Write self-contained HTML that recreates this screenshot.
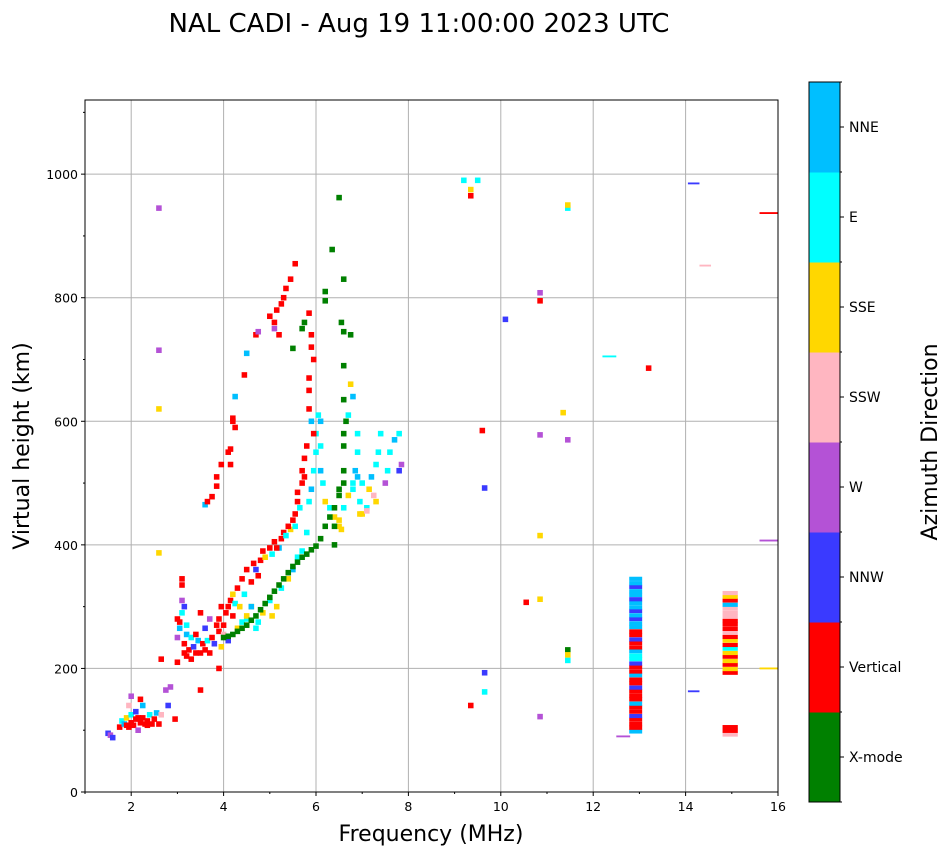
<!DOCTYPE html>
<html><head><meta charset="utf-8"><style>
body{margin:0;background:#fff;font-family:"DejaVu Sans","Liberation Sans",sans-serif}
svg{display:block;font-family:"DejaVu Sans","Liberation Sans",sans-serif}
</style></head><body>
<svg id="chart" width="951" height="856" xmlns="http://www.w3.org/2000/svg">
<text x="419" y="32" font-size="26" text-anchor="middle">NAL CADI - Aug 19 11:00:00 2023 UTC</text>
<g id="grid"></g>
<g id="marks"></g>
<rect x="85" y="100" width="693" height="692" fill="none" stroke="#000" stroke-width="1"/>
<g id="axes"></g>
<text x="431" y="841" font-size="22" text-anchor="middle">Frequency (MHz)</text>
<text transform="translate(29,446) rotate(-90)" font-size="22" text-anchor="middle">Virtual height (km)</text>
<g id="cbar"></g>
<text transform="translate(937,442) rotate(-90)" font-size="22" text-anchor="middle">Azimuth Direction</text>
</svg>
<script>
const catNames=["X-mode","Vertical","NNW","W","SSW","SSE","E","NNE"];
const catColors=["#008000","#ff0000","#3a3aff","#b452d6","#ffb6c1","#ffd700","#00ffff","#00bfff"];
const xTicks=[2,4,6,8,10,12,14,16];
const yTicks=[0,200,400,600,800,1000];
// scattered echoes: [freq MHz, height km, category]
const points=[
[1.5,95,2],[1.55,92,3],[1.6,88,2],[1.75,105,1],[1.8,115,6],[1.85,110,7],[1.9,120,5],[1.95,105,1],[2.0,112,1],[2.0,125,6],[2.05,108,1],[2.1,118,1],[2.1,130,2],[2.15,100,3],[2.2,112,1],[2.2,150,1],[2.25,140,7],[2.25,120,1],[2.3,110,1],[2.35,115,1],[2.4,125,6],[2.45,110,1],[2.5,118,1],[2.55,128,7],[2.6,110,1],[2.65,125,4],[2.75,165,3],[2.8,140,2],[2.95,118,1],[2.0,155,3],[1.95,140,4],[1.9,108,1],[2.15,120,1],[2.35,108,1],
[3.0,210,1],[3.0,250,3],[3.05,265,7],[3.05,275,1],[3.1,290,6],[3.1,310,3],[3.1,345,1],[3.1,335,1],[3.15,225,1],[3.15,240,1],[3.2,220,1],[3.2,255,7],[3.25,230,1],[3.3,215,1],[3.3,250,6],[3.35,235,2],[3.4,225,1],[3.45,245,7],[3.5,225,1],[3.5,290,1],[3.55,240,1],[3.6,230,1],[3.6,265,2],[3.65,245,6],[3.7,225,1],[3.7,280,3],[3.8,240,2],[3.85,270,1],[3.9,260,1],[3.9,280,1],[3.95,235,5],[3.95,300,1],[4.0,270,1],[4.0,255,4],[4.05,290,1],[4.1,300,1],[4.1,245,2],[4.15,310,1],[4.2,320,5],[4.25,305,6],[4.3,330,1],[4.35,300,5],[4.4,345,1],[4.5,360,1],[4.5,280,6],[4.6,300,5],[4.65,370,1],[4.7,360,2],[4.8,375,1],[4.85,390,1],[4.9,380,5],[5.0,395,1],[5.05,385,6],[5.1,405,1],[5.2,395,7],[5.25,410,1],[5.3,420,1],[5.35,415,6],[5.45,425,5],[5.4,430,1],[5.5,440,1],[5.55,450,1],[5.6,470,1],[5.6,485,1],[5.65,460,6],[5.7,500,1],[5.75,510,1],[3.0,280,1],[3.15,300,2],[2.85,170,3],[3.5,165,1],[3.9,200,1],[3.2,270,6],[3.4,255,1],[3.75,250,1],[4.2,285,1],[4.45,320,6],[4.6,340,1],[4.75,350,1],[5.15,395,1],[5.55,430,6],
[4.3,265,5],[4.4,275,6],[4.5,285,5],[4.6,300,7],[4.7,265,6],[4.75,275,6],[4.85,290,5],[5.0,310,6],[5.05,285,5],[5.15,300,5],[5.25,330,6],[5.4,345,5],[5.5,360,7],[5.6,380,6],[5.7,390,6],[5.8,420,6],[5.85,470,6],[5.9,490,7],[5.95,520,6],[6.0,550,6],[6.0,580,6],[6.05,610,6],[6.1,600,7],[6.15,500,6],[6.2,470,5],[6.3,460,6],[6.4,445,5],[6.5,430,5],[6.6,460,6],[6.7,480,5],[6.8,500,6],[6.85,520,7],[6.9,550,6],[6.9,580,6],[6.95,470,6],[7.0,450,5],[7.1,460,6],[7.15,490,5],[7.2,510,7],[7.3,530,6],[7.35,550,6],[7.4,580,6],[7.5,500,3],[7.55,520,6],[7.6,550,6],[7.7,570,7],[7.8,520,2],[7.85,530,3],[7.8,580,6],[7.3,470,5],[7.25,480,4],[7.1,455,4],[6.95,450,5],[6.75,660,5],[6.8,640,7],[6.7,610,6],[6.1,520,7],[6.1,560,6],[6.5,440,5],[6.55,425,5],[6.8,490,6],[7.0,500,6],[6.9,510,7],
[4.0,250,0],[4.1,252,0],[4.2,255,0],[4.3,260,0],[4.4,265,0],[4.5,270,0],[4.6,278,0],[4.7,285,0],[4.8,295,0],[4.9,305,0],[5.0,315,0],[5.1,325,0],[5.2,335,0],[5.3,345,0],[5.4,355,0],[5.5,365,0],[5.6,372,0],[5.7,380,0],[5.8,385,0],[5.9,392,0],[6.0,398,0],[6.1,410,0],[6.2,430,0],[6.3,445,0],[6.4,460,0],[6.5,480,0],[6.6,520,0],[6.6,560,0],[6.65,600,0],[6.6,635,0],[6.6,690,0],[6.55,760,0],[6.6,745,0],[6.2,795,0],[6.2,810,0],[6.35,878,0],[6.5,962,0],[6.6,830,0],[5.7,750,0],[5.75,760,0],[5.5,718,0],[6.75,740,0],[6.4,430,0],[6.4,400,0],[6.5,490,0],[6.6,500,0],[6.6,580,0],
[3.6,465,7],[3.65,470,1],[3.75,478,1],[3.85,495,1],[3.85,510,1],[3.95,530,1],[4.1,550,1],[4.2,600,1],[4.25,640,7],[4.45,675,1],[4.5,710,7],[4.7,740,1],[4.75,745,3],[5.0,770,1],[5.1,760,1],[5.15,780,1],[5.25,790,1],[5.3,800,1],[5.35,815,1],[5.45,830,1],[5.55,855,1],[5.85,775,1],[5.9,740,1],[5.9,720,1],[5.95,700,1],[5.85,670,1],[5.85,650,1],[5.85,620,1],[5.9,600,7],[5.95,580,1],[5.8,560,1],[5.75,540,1],[5.7,520,1],[5.1,750,3],[5.2,740,1],[4.25,590,1],[4.15,530,1],[4.2,605,1],[4.15,555,1],
[2.6,945,3],[2.6,715,3],[2.6,620,5],[2.6,387,5],[2.65,215,1],
[9.35,965,1],[9.35,975,5],[9.2,990,6],[9.5,990,6],[10.1,765,2],[10.85,808,3],[10.85,795,1],[11.45,945,6],[11.45,950,5],[13.2,686,1],[10.55,307,1],[10.85,312,5],[10.85,415,5],[10.85,578,3],[11.35,614,5],[11.45,570,3],[9.6,585,1],[9.65,492,2],[9.65,193,2],[9.65,162,6],[9.35,140,1],[10.85,122,3],[11.45,230,0],[11.45,213,6],[11.45,222,5]
];
// wide segments: [freqStart, freqEnd, height km, category]
const segments=[[14.05,14.3,985,2],[14.3,14.55,852,4],[15.6,16,937,1],[15.6,16,407,3],[15.6,16,200,5],[14.05,14.3,163,2],[12.5,12.8,90,3],[12.2,12.5,705,6]];
// column echoes near 12.9 MHz
const col1Heights=[98,104,110,117,123,130,137,143,150,156,163,169,176,182,189,195,202,208,215,221,228,234,241,247,254,260,267,273,280,286,293,299,306,312,319,325,332,338,345];
const col1Cats=[7,1,1,1,2,1,1,7,1,1,1,2,1,1,7,1,1,2,6,6,7,1,1,2,1,1,7,7,2,7,2,7,7,2,7,7,2,7,7];
// column echoes near 14.95 MHz
const col2Heights=[93,99,105,193,199,206,212,219,225,232,238,245,251,258,264,271,277,284,290,297,303,310,316,322];
const col2Cats=[4,1,1,1,5,1,5,1,5,6,1,5,1,4,1,1,1,4,4,4,7,1,5,4];

const NS="http://www.w3.org/2000/svg";
const X0=85,X1=778,Y0=792,Y1=100,FMIN=1,FMAX=16,HMIN=0,HMAX=1120;
const xs=f=>X0+(f-FMIN)/(FMAX-FMIN)*(X1-X0);
const ys=h=>Y0-(h-HMIN)/(HMAX-HMIN)*(Y0-Y1);
function mk(tag,attrs,parent){const e=document.createElementNS(NS,tag);for(const k in attrs)e.setAttribute(k,attrs[k]);parent.appendChild(e);return e;}
const grid=document.getElementById('grid'),axes=document.getElementById('axes'),marks=document.getElementById('marks'),cbar=document.getElementById('cbar');
xTicks.forEach(t=>{const x=xs(t);
 const g=mk('line',{x1:x,x2:x,y1:Y1,y2:Y0,stroke:'#b0b0b0','stroke-width':1},grid);
 
 mk('line',{x1:x,x2:x,y1:Y0,y2:Y0+4,stroke:'#000'},axes);
 const tx=mk('text',{x:x,y:Y0+19,'font-size':12.5,'text-anchor':'middle'},axes);tx.textContent=t;
 });
[1,3,5,7,9,11,13,15].forEach(t=>mk('line',{x1:xs(t),x2:xs(t),y1:Y0,y2:Y0+2,stroke:'#000'},axes));
yTicks.forEach(t=>{const y=ys(t);
 if(t>0){const g=mk('line',{x1:X0,x2:X1,y1:y,y2:y,stroke:'#b0b0b0','stroke-width':1},grid);
 }
 mk('line',{x1:X0-4,x2:X0,y1:y,y2:y,stroke:'#000'},axes);
 const tx=mk('text',{x:X0-7,y:y+5,'font-size':12.5,'text-anchor':'end'},axes);tx.textContent=t;
 });
for(let h=100;h<=1100;h+=100){if(h%200)mk('line',{x1:X0-2,x2:X0,y1:ys(h),y2:ys(h),stroke:'#000'},axes);}
const PW=0.12,PH=9;
points.forEach(p=>{const r=mk('rect',{x:xs(p[0]-PW/2),y:ys(p[1]+PH/2),width:xs(PW)-xs(0),height:ys(0)-ys(PH),fill:catColors[p[2]]},marks);
 });
segments.forEach(s=>{const r=mk('rect',{x:xs(s[0]),y:ys(s[2]+1.5),width:xs(s[1])-xs(s[0]),height:ys(0)-ys(3),fill:catColors[s[3]]},marks);
 });
col1Heights.forEach((h,i)=>{const r=mk('rect',{x:xs(12.78),y:ys(h+3.4),width:xs(0.28)-xs(0),height:ys(0)-ys(6.8),fill:catColors[col1Cats[i]]},marks);
 });
col2Heights.forEach((h,i)=>{const r=mk('rect',{x:xs(14.8),y:ys(h+3.4),width:xs(0.33)-xs(0),height:ys(0)-ys(6.8),fill:catColors[col2Cats[i]]},marks);
 });
// colorbar
const CX=809,CW=31,CT=82,CB=802,seg=(CB-CT)/catNames.length;
catNames.forEach((n,i)=>{const yTop=CB-(i+1)*seg;
 const r=mk('rect',{x:CX,y:yTop,width:CW,height:seg+0.5,fill:catColors[i]},cbar);
 
 mk('line',{x1:CX+CW,x2:CX+CW+4,y1:yTop+seg/2,y2:yTop+seg/2,stroke:'#000'},cbar);
 const t=mk('text',{x:CX+CW+9,y:yTop+seg/2+5,'font-size':14},cbar);t.textContent=n;
 });
for(let i=0;i<=catNames.length;i++)mk('line',{x1:CX+CW,x2:CX+CW+2,y1:CT+i*seg,y2:CT+i*seg,stroke:'#000'},cbar);
mk('rect',{x:CX,y:CT,width:CW,height:CB-CT,fill:'none',stroke:'#000','stroke-width':1},cbar);
</script>
</body></html>
